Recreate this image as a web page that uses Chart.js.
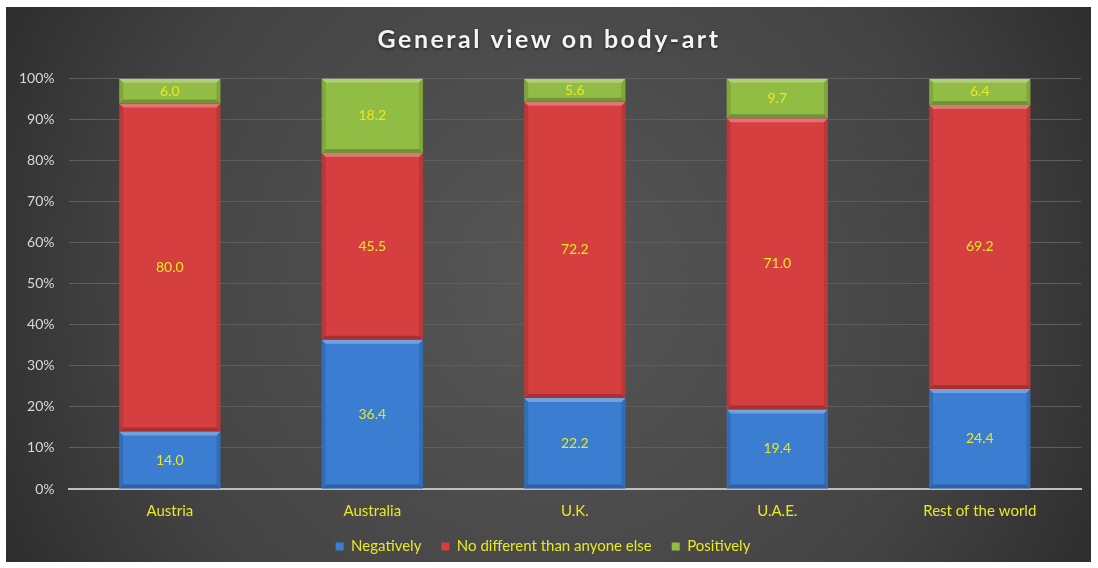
<!DOCTYPE html>
<html>
<head>
<meta charset="utf-8">
<script src="https://cdn.jsdelivr.net/npm/chart.js@4.4.1/dist/chart.umd.min.js"></script>
<style>
  html, body { margin: 0; padding: 0; background: #fff; }
  #wrap { width: 1098px; height: 568px; }
</style>
</head>
<body>
<div id="wrap"><canvas id="chart" width="1098" height="568"></canvas></div>
<script>
const countries = ["Austria", "Australia", "U.K.", "U.A.E.", "Rest of the world"];
const negatively = [14.0, 36.4, 22.2, 19.4, 24.4];
const noDifferent = [80.0, 45.5, 72.2, 71.0, 69.2];
const positively = [6.0, 18.2, 5.6, 9.7, 6.4];
const yTicks = [0, 10, 20, 30, 40, 50, 60, 70, 80, 90, 100];
const chartTitle = "General view on body-art";

const labelYellow = "#e8e824";

// dark radial backdrop with a thin white frame, like the exported picture
const backdrop = {
  id: "backdrop",
  beforeDraw(chart) {
    const { ctx, width, height } = chart;
    ctx.save();
    ctx.fillStyle = "#ffffff";
    ctx.fillRect(0, 0, width, height);
    const g = ctx.createRadialGradient(width / 2, height / 2, 20, width / 2, height / 2, width * 0.62);
    g.addColorStop(0, "#565656");
    g.addColorStop(0.6, "#434343");
    g.addColorStop(1, "#262626");
    ctx.fillStyle = g;
    ctx.fillRect(6, 7, width - 13, height - 13);
    ctx.restore();
  },
  // title drawn here so it can get letter spacing; the built-in title only reserves room
  afterDraw(chart) {
    const { ctx, width } = chart;
    ctx.save();
    ctx.letterSpacing = "2.5px";
    ctx.font = "bold 25px Lato, sans-serif";
    ctx.fillStyle = "#f4f4f4";
    ctx.textAlign = "center";
    ctx.textBaseline = "middle";
    ctx.shadowColor = "rgba(0,0,0,0.6)";
    ctx.shadowBlur = 3;
    ctx.shadowOffsetY = 1;
    ctx.fillText(chartTitle, width / 2, 40);
    ctx.restore();
  }
};

// wide gaps between legend items without the extra vertical room that padding adds
const legendTrim = 7;
const legendShift = 6;
const legendFit = {
  id: "legendFit",
  afterInit(chart) {
    const legend = chart.legend;
    const fit = legend.fit;
    legend.fit = function () {
      fit.apply(this, arguments);
      this.height -= legendTrim;
    };
    const draw = legend.draw;
    legend.draw = function () {
      const t = this.top;
      this.top -= legendShift;
      draw.apply(this, arguments);
      this.top = t;
    };
  }
};

// bevel edges + value labels on each segment
const bevelLabels = {
  id: "bevelLabels",
  afterDatasetsDraw(chart) {
    const { ctx } = chart;
    ctx.save();
    chart.data.datasets.forEach((ds, i) => {
      const meta = chart.getDatasetMeta(i);
      meta.data.forEach((bar, j) => {
        const p = bar.getProps(["x", "y", "base", "width"], true);
        const left = p.x - p.width / 2, right = p.x + p.width / 2;
        const top = Math.min(p.y, p.base), bottom = Math.max(p.y, p.base);
        const b = 4;
        ctx.fillStyle = "rgba(255,255,255,0.28)";
        ctx.beginPath();
        ctx.moveTo(left, top); ctx.lineTo(right, top);
        ctx.lineTo(right - b, top + b); ctx.lineTo(left + b, top + b);
        ctx.closePath(); ctx.fill();
        ctx.fillStyle = "rgba(0,0,0,0.22)";
        ctx.beginPath();
        ctx.moveTo(left, bottom); ctx.lineTo(right, bottom);
        ctx.lineTo(right - b, bottom - b); ctx.lineTo(left + b, bottom - b);
        ctx.closePath(); ctx.fill();
        ctx.fillStyle = "rgba(0,0,0,0.12)";
        ctx.beginPath();
        ctx.moveTo(left, top); ctx.lineTo(left + b, top + b);
        ctx.lineTo(left + b, bottom - b); ctx.lineTo(left, bottom);
        ctx.closePath(); ctx.fill();
        ctx.beginPath();
        ctx.moveTo(right, top); ctx.lineTo(right - b, top + b);
        ctx.lineTo(right - b, bottom - b); ctx.lineTo(right, bottom);
        ctx.closePath(); ctx.fill();

        ctx.fillStyle = labelYellow;
        ctx.font = "14px Lato, 'Open Sans', sans-serif";
        ctx.textAlign = "center";
        ctx.textBaseline = "middle";
        ctx.fillText(ds.data[j].toFixed(1), p.x, (top + bottom) / 2);
      });
    });
    ctx.restore();
  }
};

new Chart(document.getElementById("chart"), {
  type: "bar",
  data: {
    labels: countries,
    datasets: [
      { label: "Negatively", data: negatively, backgroundColor: "#3b7dd1" },
      { label: "No different than anyone else", data: noDifferent, backgroundColor: "#d63f3f" },
      { label: "Positively", data: positively, backgroundColor: "#92bd45" },
    ],
  },
  options: {
    responsive: false,
    animation: false,
    layout: { padding: { left: 5, right: 17, top: 8, bottom: 5 } },
    datasets: { bar: { categoryPercentage: 0.5, barPercentage: 1.0, borderWidth: 0 } },
    scales: {
      x: {
        stacked: true,
        grid: { display: false },
        border: { color: "#bfbfbf", width: 2 },
        ticks: { color: labelYellow, font: { family: "Lato", size: 15 }, padding: 5 },
      },
      y: {
        stacked: true,
        min: 0,
        max: 100,
        afterBuildTicks(axis) { axis.ticks = yTicks.map((v) => ({ value: v })); },
        grid: { color: "#5e5e5e", drawTicks: false },
        border: { display: false },
        ticks: {
          color: "#d9d9d9",
          font: { family: "Lato", size: 14 },
          padding: 14,
          callback: (v) => v + "%",
        },
      },
    },
    plugins: {
      title: {
        display: true,
        text: chartTitle,
        color: "rgba(0,0,0,0)",
        font: { family: "Lato", size: 24, weight: "bold" },
        padding: { top: 14, bottom: 28 },
      },
      legend: {
        position: "bottom",
        labels: {
          color: labelYellow,
          font: { family: "Lato", size: 15 },
          usePointStyle: true,
          pointStyle: "rect",
          boxWidth: 8,
          boxHeight: 8,
          padding: 20,
        },
      },
      tooltip: { enabled: false },
    },
  },
  plugins: [backdrop, legendFit, bevelLabels],
});
</script>
</body>
</html>
